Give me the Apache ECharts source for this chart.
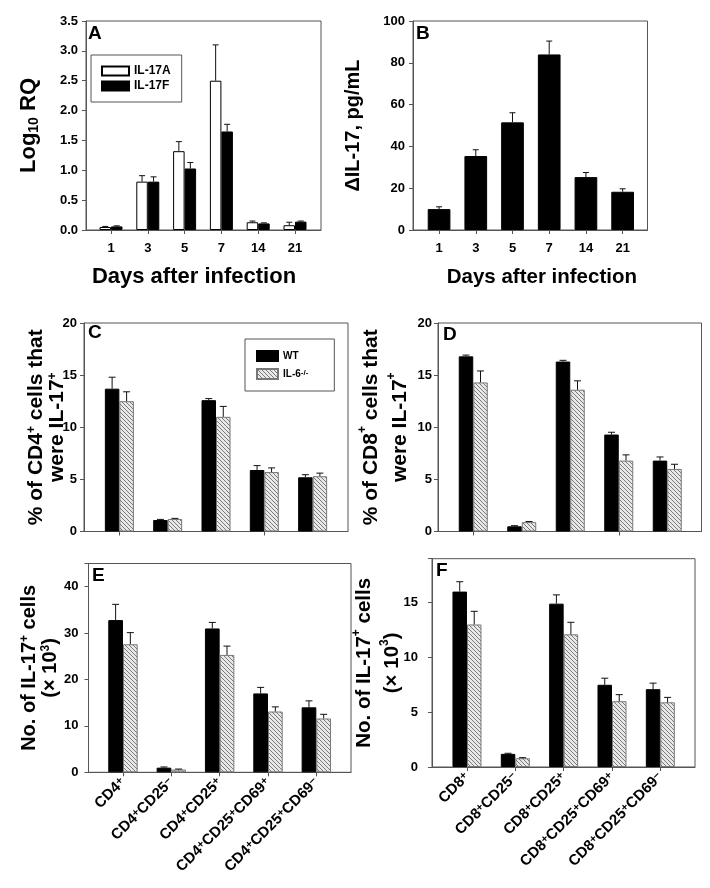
<!DOCTYPE html>
<html>
<head>
<meta charset="utf-8">
<title>IL-17 panels</title>
<script src="https://cdn.jsdelivr.net/npm/echarts@6/dist/echarts.min.js"></script>
<style>
  html, body { margin: 0; padding: 0; background: #fff; }
  #chart { width: 710px; height: 888px; }
</style>
</head>
<body>
<div id="chart"></div>
<script>
// ---- data ----
var days = ['1', '3', '5', '7', '14', '21']
var il17a = [0.05, 0.81, 1.32, 2.50, 0.13, 0.08]
var il17aErr = [0.01, 0.10, 0.16, 0.60, 0.02, 0.05]
var il17f = [0.06, 0.81, 1.03, 1.65, 0.11, 0.14]
var il17fErr = [0.01, 0.08, 0.10, 0.12, 0.01, 0.01]
var deltaIl17 = [10.0, 35.4, 51.5, 84.0, 25.3, 18.3]
var deltaIl17Err = [1.1, 3.0, 4.6, 6.4, 2.2, 1.4]

var cd4Subsets = ['CD4+', 'CD4+CD25−', 'CD4+CD25+', 'CD4+CD25+CD69+', 'CD4+CD25+CD69−']
var cd8Subsets = ['CD8+', 'CD8+CD25−', 'CD8+CD25+', 'CD8+CD25+CD69+', 'CD8+CD25+CD69−']

var cd4PctWT = [13.7, 1.1, 12.6, 5.9, 5.2]
var cd4PctWTErr = [1.1, 0.06, 0.15, 0.42, 0.25]
var cd4PctKO = [12.5, 1.2, 11.0, 5.7, 5.3]
var cd4PctKOErr = [0.9, 0.06, 1.0, 0.4, 0.3]

var cd8PctWT = [16.8, 0.5, 16.3, 9.3, 6.8]
var cd8PctWTErr = [0.12, 0.06, 0.12, 0.22, 0.35]
var cd8PctKO = [14.3, 0.9, 13.6, 6.8, 6.0]
var cd8PctKOErr = [1.1, 0.06, 0.85, 0.55, 0.45]

var cd4NoWT = [32.8, 1.0, 31.0, 17.0, 14.0]
var cd4NoWTErr = [3.4, 0.15, 1.3, 1.3, 1.4]
var cd4NoKO = [27.6, 0.6, 25.3, 13.1, 11.6]
var cd4NoKOErr = [2.5, 0.1, 1.9, 1.0, 0.9]

var cd8NoWT = [16.0, 1.2, 14.9, 7.5, 7.1]
var cd8NoWTErr = [0.9, 0.05, 0.8, 0.6, 0.55]
var cd8NoKO = [13.0, 0.8, 12.1, 6.0, 5.9]
var cd8NoKOErr = [1.2, 0.05, 1.1, 0.6, 0.45]

// ---- styles ----
var FONT = "'Liberation Sans', Arial, sans-serif"
var AXIS = '#555'

// hatched fill for the IL-6-/- bars
var hatch = document.createElement('canvas')
hatch.width = 4
hatch.height = 4
var hctx = hatch.getContext('2d')
hctx.fillStyle = '#e8e8e8'
hctx.fillRect(0, 0, 4, 4)
hctx.strokeStyle = '#7a7a7a'
hctx.lineWidth = 1
hctx.beginPath()
hctx.moveTo(0, 0); hctx.lineTo(4, 4)
hctx.moveTo(-1, 3); hctx.lineTo(1, 5)
hctx.moveTo(3, -1); hctx.lineTo(5, 1)
hctx.stroke()
var hatchFill = { image: hatch, repeat: 'repeat' }

// panel boxes: frame [left, top, right, bottom], band = x range of category bands
var panels = [
  { frame: [86, 21, 321, 230], band: [92.6, 313.4] },
  { frame: [413, 21, 647.5, 230], band: [420.7, 641] },
  { frame: [84, 323, 348, 531.5], band: [95.2, 336.8] },
  { frame: [438, 323, 701.5, 531.5], band: [449, 691.5] },
  { frame: [88.5, 563.5, 351, 772.3], band: [98.8, 340.5] },
  { frame: [432, 558.7, 695, 767], band: [442.8, 684.5] }
]

var grids = []
var xAxes = []
var yAxes = []
var series = []

function supText(v) {
  return v.replace(/([+−])/g, '{sup|$1}')
}

function addPanel(k, cfg) {
  var p = panels[k]
  var f = p.frame
  var fi = 2 * k
  var di = 2 * k + 1
  // frame grid (box + y axis)
  grids.push({ left: f[0], top: f[1], width: f[2] - f[0], height: f[3] - f[1],
    show: true, borderColor: AXIS, borderWidth: 1, outerBoundsMode: 'none' })
  // data grid (category bands)
  grids.push({ left: p.band[0], top: f[1], width: p.band[1] - p.band[0], height: f[3] - f[1],
    show: false, outerBoundsMode: 'none' })

  xAxes.push({ gridIndex: fi, type: 'value', min: 0, max: 1,
    axisLine: { show: true, lineStyle: { color: AXIS } },
    axisTick: { show: false }, axisLabel: { show: false }, splitLine: { show: false } })
  xAxes.push({ gridIndex: di, type: 'category', data: cfg.cats,
    axisLine: { show: false },
    axisTick: { show: true, alignWithLabel: true, length: 4, inside: false, lineStyle: { color: AXIS } },
    axisLabel: cfg.xLabel,
    splitLine: { show: false },
    name: cfg.xName || '', nameLocation: 'middle', nameGap: cfg.xNameGap || 30,
    nameTextStyle: cfg.xNameStyle,
    nameMoveOverlap: false })

  yAxes.push({ gridIndex: fi, type: 'value', min: 0, max: cfg.max, interval: cfg.interval,
    axisLine: { show: true, lineStyle: { color: AXIS } },
    axisTick: { show: true, length: 4, lineStyle: { color: AXIS } },
    axisLabel: { color: '#000', fontWeight: 'bold', fontSize: 13, fontFamily: FONT,
      margin: cfg.yMargin, formatter: cfg.yFmt },
    splitLine: { show: false },
    name: cfg.yName, nameLocation: 'middle', nameGap: cfg.yNameGap,
    nameTextStyle: cfg.yNameStyle, nameMoveOverlap: false })
  yAxes.push({ gridIndex: di, type: 'value', min: 0, max: cfg.max, show: false })

  cfg.bars.forEach(function(b) {
    series.push({
      name: b.name, type: 'bar', xAxisIndex: di, yAxisIndex: di,
      data: b.values, barWidth: cfg.barWidth, barGap: '0%',
      itemStyle: b.style, z: 2
    })
    series.push({
      name: b.name + ' err', type: 'custom', xAxisIndex: di, yAxisIndex: di,
      data: b.values.map(function(v, i) { return [i, v, b.errs[i]] }),
      encode: { x: 0, y: 1 }, z: 3, silent: true,
      renderItem: function(params, api) {
        var i = api.value(0)
        var v = api.value(1)
        var e = api.value(2)
        var p0 = api.coord([i, v])
        var p1 = api.coord([i, v + e])
        var cx = p0[0] + b.offset
        var st = { stroke: '#111', lineWidth: 1 }
        return { type: 'group', children: [
          { type: 'line', shape: { x1: cx, y1: p0[1], x2: cx, y2: p1[1] }, style: st },
          { type: 'line', shape: { x1: cx - cfg.cap, y1: p1[1], x2: cx + cfg.cap, y2: p1[1] }, style: st }
        ] }
      }
    })
  })
}

var blackBar = { color: '#000', borderColor: '#000', borderWidth: 1 }
var whiteBar = { color: '#fff', borderColor: '#000', borderWidth: 1 }
var hatchBar = { color: hatchFill, borderColor: '#777', borderWidth: 1 }

var dayLabel = { color: '#000', fontWeight: 'bold', fontSize: 13, fontFamily: FONT, margin: 12, interval: 0 }
var noLabel = { show: false }
var subsetLabel = { color: '#000', fontWeight: 'bold', fontSize: 15, fontFamily: FONT, margin: 8,
  rotate: 45, interval: 0, formatter: supText,
  rich: { sup: { fontSize: 11, fontWeight: 'bold', fontFamily: FONT, verticalAlign: 'top', lineHeight: 10 } } }
var supRich = { sup: { fontSize: 12, fontWeight: 'bold', fontFamily: FONT, verticalAlign: 'top', lineHeight: 12 } }

function nameStyle(size, lh, extra) {
  var s = { color: '#000', fontWeight: 'bold', fontSize: size, fontFamily: FONT, lineHeight: lh, rich: supRich }
  if (extra) { for (var key in extra) s[key] = extra[key] }
  return s
}

// A
addPanel(0, {
  cats: days, xLabel: dayLabel, max: 3.5, interval: 0.5,
  yFmt: function(v) { return v.toFixed(1) }, yMargin: 8,
  yName: 'Log{sub|10} RQ', yNameGap: 45,
  yNameStyle: nameStyle(22, 24, { rich: { sub: { fontSize: 14, fontWeight: 'bold', fontFamily: FONT, verticalAlign: 'bottom', lineHeight: 12 } } }),
  xName: 'Days after infection', xNameGap: 36, xNameStyle: nameStyle(22, 22, { padding: [0, 18, 0, 0] }),
  barWidth: 11.5, cap: 3,
  bars: [
    { name: 'IL-17A', values: il17a, errs: il17aErr, style: whiteBar, offset: -5.75 },
    { name: 'IL-17F', values: il17f, errs: il17fErr, style: blackBar, offset: 5.75 }
  ]
})
// B
addPanel(1, {
  cats: days, xLabel: dayLabel, max: 100, interval: 20,
  yFmt: null, yMargin: 8,
  yName: 'ΔIL-17, pg/mL', yNameGap: 49, yNameStyle: nameStyle(20, 22),
  xName: 'Days after infection', xNameGap: 36, xNameStyle: nameStyle(20.5, 22, { padding: [0, 0, 0, 22] }),
  barWidth: 22.7, cap: 3,
  bars: [
    { name: 'ΔIL-17', values: deltaIl17, errs: deltaIl17Err, style: blackBar, offset: 0 }
  ]
})
// C
addPanel(2, {
  cats: cd4Subsets, xLabel: noLabel, max: 20, interval: 5,
  yFmt: null, yMargin: 7,
  yName: '% of CD4{sup|+} cells that\nwere IL-17{sup|+}', yNameGap: 16, yNameStyle: nameStyle(21, 21),
  barWidth: 14.5, cap: 3.5,
  bars: [
    { name: 'WT', values: cd4PctWT, errs: cd4PctWTErr, style: blackBar, offset: -7.25 },
    { name: 'IL-6-/-', values: cd4PctKO, errs: cd4PctKOErr, style: hatchBar, offset: 7.25 }
  ]
})
// D
addPanel(3, {
  cats: cd8Subsets, xLabel: noLabel, max: 20, interval: 5,
  yFmt: null, yMargin: 6,
  yName: '% of CD8{sup|+} cells that\nwere IL-17{sup|+}', yNameGap: 23, yNameStyle: nameStyle(21, 29),
  barWidth: 14.5, cap: 3.5,
  bars: [
    { name: 'WT', values: cd8PctWT, errs: cd8PctWTErr, style: blackBar, offset: -7.25 },
    { name: 'IL-6-/-', values: cd8PctKO, errs: cd8PctKOErr, style: hatchBar, offset: 7.25 }
  ]
})
// E
addPanel(4, {
  cats: cd4Subsets, xLabel: subsetLabel, max: 45, interval: 10,
  yFmt: function(v) { return v % 10 === 0 ? String(v) : '' }, yMargin: 10,
  yName: 'No. of IL-17{sup|+} cells\n(× 10{sup|3})', yNameGap: 28, yNameStyle: nameStyle(20, 21),
  barWidth: 14.7, cap: 3.5,
  bars: [
    { name: 'WT', values: cd4NoWT, errs: cd4NoWTErr, style: blackBar, offset: -7.35 },
    { name: 'IL-6-/-', values: cd4NoKO, errs: cd4NoKOErr, style: hatchBar, offset: 7.35 }
  ]
})
// F
addPanel(5, {
  cats: cd8Subsets, xLabel: subsetLabel, max: 19, interval: 5,
  yFmt: function(v) { return v % 5 === 0 ? String(v) : '' }, yMargin: 14,
  yName: 'No. of IL-17{sup|+} cells\n(× 10{sup|3})', yNameGap: 26, yNameStyle: nameStyle(20.5, 27.5),
  barWidth: 14.5, cap: 3.5,
  bars: [
    { name: 'WT', values: cd8NoWT, errs: cd8NoWTErr, style: blackBar, offset: -7.25 },
    { name: 'IL-6-/-', values: cd8NoKO, errs: cd8NoKOErr, style: hatchBar, offset: 7.25 }
  ]
})

var letterStyle = { color: '#000', fontWeight: 'bold', fontSize: 19, fontFamily: FONT }
var letters = [
  { text: 'A', left: 88, top: 24 },
  { text: 'B', left: 416, top: 24 },
  { text: 'C', left: 88, top: 323 },
  { text: 'D', left: 443, top: 325 },
  { text: 'E', left: 92, top: 566 },
  { text: 'F', left: 436, top: 561 }
].map(function(t) {
  return { text: t.text, left: t.left, top: t.top, padding: 0, textStyle: letterStyle }
})

var chart = echarts.init(document.getElementById('chart'), null, { renderer: 'canvas' })
chart.setOption({
  backgroundColor: '#fff',
  animation: false,
  title: letters,
  legend: [
    {
      data: ['IL-17A', 'IL-17F'], orient: 'vertical', left: 91, top: 55,
      itemWidth: 27, itemHeight: 9, itemGap: 3, padding: [10, 11, 10, 10],
      borderColor: AXIS, borderWidth: 1, selectedMode: false, icon: 'rect',
      textStyle: { color: '#000', fontWeight: 'bold', fontSize: 12, fontFamily: FONT }
    },
    {
      data: ['WT', 'IL-6-/-'], orient: 'vertical', left: 245, top: 339,
      itemWidth: 21, itemHeight: 10, itemGap: 6, padding: [11, 26, 11, 11],
      borderColor: AXIS, borderWidth: 1, selectedMode: false, icon: 'rect',
      formatter: function(n) { return n === 'IL-6-/-' ? 'IL-6{sup|-/-}' : n },
      textStyle: { color: '#000', fontWeight: 'bold', fontSize: 10, fontFamily: FONT,
        rich: { sup: { fontSize: 8, fontWeight: 'bold', fontFamily: FONT, verticalAlign: 'top', lineHeight: 8 } } }
    }
  ],
  grid: grids,
  xAxis: xAxes,
  yAxis: yAxes,
  series: series
})
</script>
</body>
</html>
